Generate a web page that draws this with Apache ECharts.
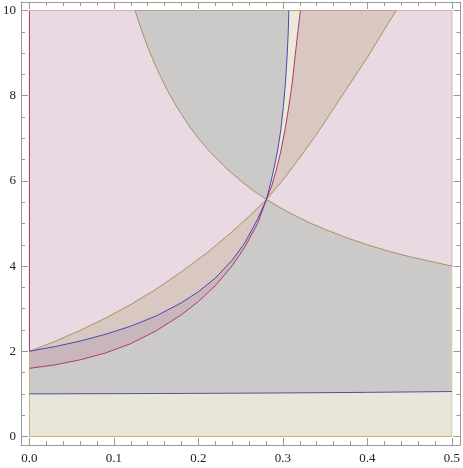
<!DOCTYPE html>
<html>
<head>
<meta charset="utf-8">
<script src="https://cdn.jsdelivr.net/npm/echarts@6/dist/echarts.min.js"></script>
<style>
  html, body { margin: 0; padding: 0; background: #fff; }
  #chart { width: 463px; height: 468px; }
</style>
</head>
<body>
<div id="chart"></div>
<script>
// ticks
const xMajor = [0, 0.1, 0.2, 0.3, 0.4, 0.5]
const xMinor = [0.02, 0.04, 0.06, 0.08, 0.12, 0.14, 0.16, 0.18, 0.22, 0.24, 0.26, 0.28,
  0.32, 0.34, 0.36, 0.38, 0.42, 0.44, 0.46, 0.48]
const yMajor = [0, 2, 4, 6, 8, 10]
const yMinor = [0.5, 1, 1.5, 2.5, 3, 3.5, 4.5, 5, 5.5, 6.5, 7, 7.5, 8.5, 9, 9.5]

// plot range
const xRange = [0, 0.5]
const yRange = [0, 10]

// boundary curves
const riseCurve = [[0, 2.0], [0.03, 2.23], [0.06, 2.49], [0.09, 2.78], [0.12, 3.1], [0.15, 3.46],
  [0.18, 3.87], [0.21, 4.31], [0.24, 4.81], [0.26, 5.17], [0.2805, 5.565], [0.3, 6.02],
  [0.32, 6.55], [0.34, 7.1], [0.36, 7.7], [0.38, 8.3], [0.4, 8.9], [0.42, 9.55], [0.434, 10.0]]
const fallCurve = [[0.125, 10.0], [0.13, 9.69], [0.135, 9.41], [0.14, 9.14], [0.15, 8.67],
  [0.16, 8.25], [0.17, 7.88], [0.18, 7.56], [0.19, 7.26], [0.2, 7.0], [0.21, 6.76], [0.22, 6.55],
  [0.235, 6.26], [0.25, 6.0], [0.265, 5.77], [0.2805, 5.565], [0.295, 5.39], [0.31, 5.23],
  [0.33, 5.03], [0.35, 4.86], [0.375, 4.67], [0.4, 4.5], [0.425, 4.35], [0.45, 4.22],
  [0.475, 4.11], [0.5, 4.0]]
const blueCurve = [[0, 2.0], [0.03, 2.11], [0.06, 2.24], [0.09, 2.4], [0.12, 2.59], [0.15, 2.83],
  [0.18, 3.14], [0.2, 3.4], [0.22, 3.72], [0.24, 4.14], [0.255, 4.55], [0.27, 5.1],
  [0.2805, 5.565], [0.2855, 5.95], [0.29, 6.35], [0.294, 6.75], [0.2975, 7.2], [0.3005, 7.75],
  [0.303, 8.3], [0.305, 8.95], [0.3063, 9.5], [0.307, 10.0]]
const magentaCurve = [[0, 1.6], [0.03, 1.68], [0.06, 1.8], [0.09, 1.96], [0.12, 2.18], [0.15, 2.48],
  [0.18, 2.86], [0.2, 3.17], [0.22, 3.54], [0.24, 4.01], [0.255, 4.45], [0.27, 5.0],
  [0.2805, 5.565], [0.287, 5.9], [0.292, 6.25], [0.297, 6.65], [0.302, 7.15], [0.307, 7.75],
  [0.311, 8.3], [0.3145, 8.95], [0.3177, 9.5], [0.3207, 10.0]]
const floorCurve = [[0, 1.0], [0.1, 1.005], [0.2, 1.012], [0.3, 1.022], [0.4, 1.036], [0.5, 1.055]]

const crossX = 0.2805
const below = c => c.filter(p => p[0] <= crossX)
const above = c => c.filter(p => p[0] >= crossX)
const rev = c => c.slice().reverse()

const [x0, x1] = xRange
const [y0, y1] = yRange

const regions = [
  { fill: '#e9d9e3', pts: [[x0, y0], [x1, y0], [x1, y1], [x0, y1]] },
  { fill: '#ccc9c9', pts: [[x0, y0], [x1, y0], ...rev(above(fallCurve)), ...rev(below(magentaCurve))] },
  { fill: '#ccc9c9', pts: [...rev(below(fallCurve)), ...rev(above(blueCurve))] },
  { fill: '#d9c7c2', pts: [...riseCurve, ...rev(blueCurve)] },
  { fill: '#c9b6bd', pts: [...below(blueCurve), ...rev(below(magentaCurve))] },
  { fill: '#ece9da', pts: [...above(blueCurve), ...rev(above(magentaCurve))] },
  { fill: '#e9e6d9', pts: [[x0, y0], [x1, y0], ...rev(floorCurve)] }
]

const regionSeries = regions.map(r => ({
  type: 'custom',
  silent: true,
  clip: true,
  data: [[0.25, 5]],
  renderItem: (params, api) => ({
    type: 'polygon',
    shape: { points: r.pts.map(p => api.coord(p)) },
    style: { fill: r.fill, stroke: null }
  }),
  z: 1
}))

const lineSeries = (data, color, width) => ({
  type: 'line',
  data,
  showSymbol: false,
  silent: true,
  clip: true,
  lineStyle: { color, width: width || 1 },
  z: 3
})

const edges = [
  lineSeries([[x0, y0], [x0, 2]], '#c4b47e'),
  lineSeries([[x0, 2], [x0, y1]], '#9c3d6e'),
  lineSeries([[x0, y1], [0.125, y1]], '#d8a9c4'),
  lineSeries([[0.125, y1], [0.434, y1]], '#b9a48e'),
  lineSeries([[0.434, y1], [x1, y1]], '#d8a9c4'),
  lineSeries([[x1, 4], [x1, y1]], '#d8a9c4'),
  lineSeries([[x1, y0], [x1, 4]], '#ddd4a8'),
  lineSeries([[x0, y0], [x1, y0]], '#c4b27c')
]

const curveLines = [
  lineSeries(riseCurve, '#a8925f'),
  lineSeries(fallCurve, '#a8925f'),
  lineSeries(magentaCurve, '#b0386f'),
  lineSeries(blueCurve, '#4848b0'),
  lineSeries(floorCurve, '#4f4fae')
]

const font = { fontFamily: 'Liberation Serif', fontSize: 13, color: '#222' }
const axisBase = (pos, vals, len, showLine, showLabel, fmt) => ({
  type: 'value',
  position: pos,
  min: pos === 'bottom' || pos === 'top' ? -0.01 : -0.2,
  max: pos === 'bottom' || pos === 'top' ? 0.51 : 10.2,
  splitLine: { show: false },
  axisLine: { show: showLine, onZero: false, lineStyle: { color: '#999', width: 1 } },
  axisTick: { show: true, inside: true, length: len, customValues: vals, lineStyle: { color: '#999' } },
  axisLabel: showLabel
    ? { show: true, customValues: vals, formatter: fmt, margin: pos === 'bottom' ? 7 : 5, ...font }
    : { show: false }
})

const chart = echarts.init(document.getElementById('chart'), null, { renderer: 'canvas' })
chart.setOption({
  animation: false,
  grid: { left: 18, right: 1, top: 2, bottom: 23 },
  xAxis: [
    axisBase('bottom', xMajor, 7, true, true, v => v.toFixed(1)),
    axisBase('bottom', xMinor, 4, false, false),
    axisBase('top', xMajor, 7, true, false),
    axisBase('top', xMinor, 4, false, false)
  ],
  yAxis: [
    axisBase('left', yMajor, 7, true, true, v => String(v)),
    axisBase('left', yMinor, 4, false, false),
    axisBase('right', yMajor, 7, true, false),
    axisBase('right', yMinor, 4, false, false)
  ],
  series: [...regionSeries, ...edges, ...curveLines]
})
</script>
</body>
</html>
